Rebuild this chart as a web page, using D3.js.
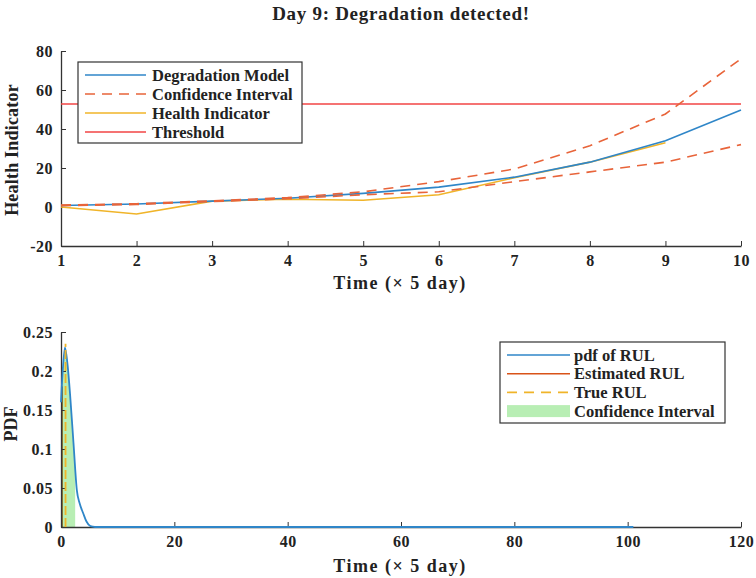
<!DOCTYPE html>
<html>
<head>
<meta charset="utf-8">
<script src="https://cdn.jsdelivr.net/npm/d3@7/dist/d3.min.js"></script>
<style>
  body { margin: 0; background: #fff; }
  text { font-family: "Liberation Serif", "DejaVu Serif", serif; font-weight: bold; fill: #222; }
</style>
</head>
<body>
<script>
// top chart data (time in units of 5 days)
const timeSteps = [1, 2, 3, 4, 5, 6, 7, 8, 9, 10];
const modelValues = [0.8, 1.5, 3, 4.5, 7, 10.2, 15.3, 23, 34, 49.7];
const upperCI = [1, 1.7, 3.2, 4.8, 7.8, 13, 19.5, 31.4, 47.7, 76];
const lowerCI = [0.7, 1.3, 2.8, 4.2, 6.3, 7.8, 13, 18, 23, 32];
const healthTime = [1, 2, 3, 4, 5, 6, 7, 8, 9];
const healthValues = [0, -3.6, 3, 4, 3.5, 6.3, 15, 23, 33];
const threshold = 52.8;
const topYTicks = [-20, 0, 20, 40, 60, 80];

// bottom chart data
const rulTime = [0, 0.3, 0.7, 1.2, 1.6, 2.2, 2.8, 3.3, 3.9, 4.5, 5.2, 6, 101];
const rulPdf = [0.16, 0.2, 0.23, 0.205, 0.17, 0.108, 0.047, 0.03, 0.018, 0.007, 0.001, 0, 0];
const ciTime = [0.2, 0.3, 0.7, 1.2, 1.6, 2.2, 2.5];
const ciPdf = [0.18, 0.2, 0.23, 0.205, 0.17, 0.108, 0.08];
const estimatedRUL = 0.2;
const trueRUL = 0.8;
const trueRULHeight = 0.235;
const bottomXTicks = [0, 20, 40, 60, 80, 100, 120];
const bottomYTicks = [0, 0.05, 0.1, 0.15, 0.2, 0.25];

const colors = {
  model: "#2f86c8",
  ci: "#e8643a",
  health: "#f0b429",
  threshold: "#f24444",
  est: "#d95319",
  green: "#b8eeb4",
  greenEdge: "#3d8a3a"
};

const W = 756, H = 578;
const svg = d3.select("body").append("svg").attr("width", W).attr("height", H);

function drawAxes(g, x, y, xTicks, yTicks, yFmt) {
  const xa = g.append("g").attr("transform", `translate(0,${y.range()[0]})`)
    .call(d3.axisBottom(x).tickValues(xTicks).tickSizeInner(-5).tickSizeOuter(0).tickPadding(9));
  const ya = g.append("g").attr("transform", `translate(${x.range()[0]},0)`)
    .call(d3.axisLeft(y).tickValues(yTicks).tickFormat(yFmt).tickSizeInner(-5).tickSizeOuter(0).tickPadding(8));
  [xa, ya].forEach((a) => {
    a.select(".domain").attr("stroke", "#333").attr("stroke-width", 1.3);
    a.selectAll(".tick line").attr("stroke", "#333");
    a.selectAll("text").style("font-size", "16px").style("letter-spacing", "0.5px").attr("fill", "#222");
  });
}

// ---------- top chart ----------
const x1 = d3.scaleLinear().domain([1, 10]).range([61, 741]);
const y1 = d3.scaleLinear().domain([-20, 80]).range([246, 51]);
const topG = svg.append("g");

svg.append("text").attr("x", 401).attr("y", 20).attr("text-anchor", "middle")
  .style("font-size", "19px").style("letter-spacing", "0.7px").text("Day 9: Degradation detected!");

drawAxes(topG, x1, y1, timeSteps, topYTicks, (d) => String(d));

const line1 = d3.line().x((d) => x1(d[0])).y((d) => y1(d[1]));

topG.append("line").attr("x1", x1(1)).attr("x2", x1(10))
  .attr("y1", y1(threshold)).attr("y2", y1(threshold))
  .attr("stroke", colors.threshold).attr("stroke-width", 1.6);

topG.append("path").datum(d3.zip(healthTime, healthValues)).attr("d", line1)
  .attr("fill", "none").attr("stroke", colors.health).attr("stroke-width", 1.6);
topG.append("path").datum(d3.zip(timeSteps, modelValues)).attr("d", line1)
  .attr("fill", "none").attr("stroke", colors.model).attr("stroke-width", 1.6);
[upperCI, lowerCI].forEach((ci) => {
  topG.append("path").datum(d3.zip(timeSteps, ci)).attr("d", line1)
    .attr("fill", "none").attr("stroke", colors.ci).attr("stroke-width", 1.6)
    .attr("stroke-dasharray", "10,7");
});

const leg1 = topG.append("g");
leg1.append("rect").attr("x", 78).attr("y", 62).attr("width", 224).attr("height", 81)
  .attr("fill", "#fff").attr("stroke", "#333").attr("stroke-width", 1.2);
const leg1Items = [
  { label: "Degradation Model", color: colors.model },
  { label: "Confidence Interval", color: colors.ci, dash: "10,7" },
  { label: "Health Indicator", color: colors.health },
  { label: "Threshold", color: colors.threshold }
];
leg1Items.forEach((d, i) => {
  const yy = 75 + i * 19;
  leg1.append("line").attr("x1", 85).attr("x2", 146).attr("y1", yy).attr("y2", yy)
    .attr("stroke", d.color).attr("stroke-width", 1.6).attr("stroke-dasharray", d.dash || null);
  leg1.append("text").attr("x", 152).attr("y", yy + 5.5).style("font-size", "16.5px").text(d.label);
});

topG.append("text").attr("x", 400).attr("y", 289).attr("text-anchor", "middle")
  .style("font-size", "18px").style("letter-spacing", "1.5px").text("Time (× 5 day)");
topG.append("text").attr("transform", "translate(18,150) rotate(-90)").attr("text-anchor", "middle")
  .style("font-size", "18px").style("letter-spacing", "0.2px").text("Health Indicator");

// ---------- bottom chart ----------
const x2 = d3.scaleLinear().domain([0, 120]).range([61, 741]);
const y2 = d3.scaleLinear().domain([0, 0.25]).range([527, 332]);
const botG = svg.append("g");

const area2 = d3.area().x((d) => x2(d[0])).y0(y2(0)).y1((d) => y2(d[1]));
botG.append("path").datum(d3.zip(ciTime, ciPdf)).attr("d", area2)
  .attr("fill", colors.green).attr("stroke", "none");
botG.append("line").attr("x1", x2(ciTime[0])).attr("x2", x2(ciTime[0]))
  .attr("y1", y2(0)).attr("y2", y2(ciPdf[0])).attr("stroke", colors.greenEdge).attr("stroke-width", 1.4);

botG.append("line").attr("x1", x2(estimatedRUL)).attr("x2", x2(estimatedRUL))
  .attr("y1", y2(0)).attr("y2", y2(ciPdf[0])).attr("stroke", colors.est).attr("stroke-width", 1.2)
  .attr("opacity", 0.6);

drawAxes(botG, x2, y2, bottomXTicks, bottomYTicks, (d) => d === 0 ? "0" : String(+d.toFixed(2)));

botG.append("path").datum(d3.zip(rulTime, rulPdf))
  .attr("d", d3.line().x((d) => x2(d[0])).y((d) => y2(d[1])).curve(d3.curveMonotoneX))
  .attr("fill", "none").attr("stroke", colors.model).attr("stroke-width", 1.8);

botG.append("line").attr("x1", x2(trueRUL)).attr("x2", x2(trueRUL))
  .attr("y1", y2(0)).attr("y2", y2(trueRULHeight)).attr("stroke", colors.health)
  .attr("stroke-width", 1.8).attr("stroke-dasharray", "9,3");

const leg2 = botG.append("g");
leg2.append("rect").attr("x", 500).attr("y", 342).attr("width", 225).attr("height", 81)
  .attr("fill", "#fff").attr("stroke", "#333").attr("stroke-width", 1.2);
const leg2Items = [
  { label: "pdf of RUL", color: colors.model },
  { label: "Estimated RUL", color: colors.est },
  { label: "True RUL", color: colors.health, dash: "10,7" },
  { label: "Confidence Interval", color: colors.green, patch: true }
];
leg2Items.forEach((d, i) => {
  const yy = 355 + i * 18.7;
  if (d.patch) {
    leg2.append("rect").attr("x", 507).attr("y", yy - 6).attr("width", 63).attr("height", 12)
      .attr("fill", d.color);
  } else {
    leg2.append("line").attr("x1", 507).attr("x2", 570).attr("y1", yy).attr("y2", yy)
      .attr("stroke", d.color).attr("stroke-width", 1.6).attr("stroke-dasharray", d.dash || null);
  }
  leg2.append("text").attr("x", 574).attr("y", yy + 5.5).style("font-size", "16.5px").text(d.label);
});

botG.append("text").attr("x", 400).attr("y", 572).attr("text-anchor", "middle")
  .style("font-size", "18px").style("letter-spacing", "1.5px").text("Time (× 5 day)");
botG.append("text").attr("transform", "translate(17,424) rotate(-90)").attr("text-anchor", "middle")
  .style("font-size", "18px").text("PDF");
</script>
</body>
</html>
